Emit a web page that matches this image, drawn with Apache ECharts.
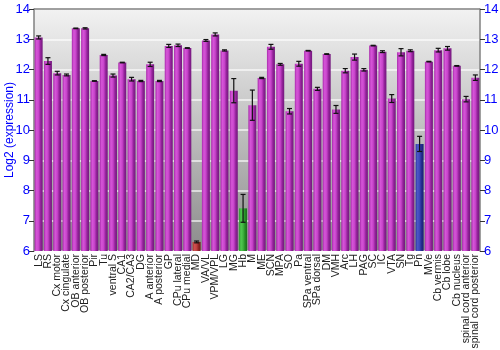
<!DOCTYPE html>
<html>
<head>
<meta charset="utf-8">
<script src="https://cdn.jsdelivr.net/npm/echarts@6/dist/echarts.min.js"></script>
<style>
  html, body { margin: 0; padding: 0; background: #fff; }
  #chart { width: 500px; height: 350px; }
</style>
</head>
<body>
<div id="chart"></div>
<script>
// Brain regions along the x axis
const regions = [
  'LS', 'RS', 'Cx motor', 'Cx cingulate', 'OB anterior', 'OB posterior', 'Pir', 'Tu',
  'ventral S', 'CA1', 'CA2/CA3', 'DG', 'A anterior', 'A posterior', 'GP', 'CPu lateral',
  'CPu medial', 'MD', 'VA/VL', 'VPM/VPL', 'LG', 'MG', 'Hb', 'M', 'ME', 'SCN', 'MPA', 'SO',
  'Pa', 'SPa ventral', 'SPa dorsal', 'DM', 'VMH', 'Arc', 'LH', 'PAG', 'SC', 'IC', 'VTA',
  'SN', 'Tg', 'Pn', 'MVe', 'Cb vermis', 'Cb lobe', 'Cb nucleus', 'spinal cord anterior',
  'spinal cord posterior'
];

// Mean log2 expression per region
const expression = [
  13.06, 12.28, 11.88, 11.82, 13.36, 13.36, 11.62, 12.48,
  11.80, 12.23, 11.68, 11.62, 12.17, 11.62, 12.78, 12.80,
  12.71, 6.30, 12.96, 13.16, 12.63, 11.30, 7.41, 10.82, 11.72, 12.75, 12.17, 10.62,
  12.19, 12.62, 11.36, 12.51, 10.68, 11.96, 12.41, 11.99, 12.79, 12.59, 11.04,
  12.57, 12.62, 9.54, 12.26, 12.64, 12.70, 12.12, 11.02,
  11.73
];

// Standard error per region
const stdError = [
  0.05, 0.11, 0.06, 0.03, 0.01, 0.02, 0.01, 0.02,
  0.05, 0.01, 0.06, 0.02, 0.07, 0.02, 0.05, 0.04,
  0.01, 0.03, 0.03, 0.05, 0.02, 0.40, 0.46, 0.50, 0.02, 0.08, 0.03, 0.09,
  0.08, 0.01, 0.05, 0.01, 0.13, 0.07, 0.10, 0.04, 0.01, 0.03, 0.13,
  0.12, 0.03, 0.25, 0.01, 0.06, 0.06, 0.01, 0.09,
  0.09
];

// Regions drawn in their own colour
const highlight = { 'MD': 'red', 'Hb': 'green', 'Pn': 'blue' };

const yTicks = [6, 7, 8, 9, 10, 11, 12, 13, 14];

function hGrad(stops) {
  return new echarts.graphic.LinearGradient(0, 0, 1, 0,
    stops.map((c, i) => ({ offset: i / (stops.length - 1), color: c })));
}
const palettes = {
  purple: hGrad(['#a82aab', '#d656d8', '#c844cb', '#922299', '#72187c']),
  red: hGrad(['#a83030', '#d05050', '#c04040', '#902424', '#701818']),
  green: hGrad(['#2e9a2e', '#50c850', '#40b440', '#268a26', '#1a701a']),
  blue: hGrad(['#2c36a0', '#4c58c8', '#3c46b8', '#222c8c', '#1a2070'])
};

const barData = regions.map((r, i) => ({
  value: expression[i],
  itemStyle: { color: palettes[highlight[r] || 'purple'] }
}));

const errData = regions.map((r, i) => [i, expression[i] - stdError[i], expression[i] + stdError[i]]);

const chart = echarts.init(document.getElementById('chart'), null, { renderer: 'canvas' });

const yAxisBase = {
  type: 'value', min: 6, max: 14, interval: 1,
  axisLine: { show: true, lineStyle: { color: '#808080', width: 1.5 } },
  axisTick: { show: true, length: 5, lineStyle: { color: '#333' } },
  axisLabel: { color: '#0000ff', fontSize: 13, fontFamily: 'Liberation Sans, Arial, sans-serif', margin: 4,
    formatter: v => yTicks.includes(v) ? String(v) : '' },
  splitLine: { show: true, lineStyle: { color: '#ffffff', width: 1.5, opacity: 0.8 } }
};

chart.setOption({
  animation: false,
  backgroundColor: '#ffffff',
  grid: {
    left: 34, right: 20, top: 9, bottom: 99,
    containLabel: false,
    outerBoundsMode: 'none',
    show: true,
    borderWidth: 0,
    backgroundColor: new echarts.graphic.LinearGradient(0, 0, 0, 1, [
      { offset: 0, color: '#f2f2f2' },
      { offset: 1, color: '#8c8c8c' }
    ])
  },
  xAxis: {
    type: 'category',
    data: regions,
    axisLine: { show: false },
    axisTick: { show: false },
    axisLabel: {
      rotate: 90, interval: 0, color: '#222', fontSize: 10.5,
      fontFamily: 'Liberation Sans, Arial, sans-serif', margin: 3
    }
  },
  yAxis: [
    Object.assign({}, yAxisBase, {
      position: 'left',
      name: 'Log2 (expression)', nameLocation: 'middle', nameGap: 18,
      nameMoveOverlap: false,
      nameTextStyle: { color: '#0000ff', fontSize: 12, fontFamily: 'Liberation Sans, Arial, sans-serif' }
    }),
    Object.assign({}, yAxisBase, { position: 'right', splitLine: { show: false } })
  ],
  graphic: [{
    type: 'line', shape: { x1: 34, y1: 9, x2: 480, y2: 9 },
    style: { stroke: '#808080', lineWidth: 1.5 }, z: 10
  }],
  series: [
    {
      type: 'bar',
      data: barData,
      barCategoryGap: '14%',
      z: 2
    },
    {
      type: 'custom',
      data: errData,
      z: 5,
      renderItem: function (params, api) {
        const x = api.value(0);
        const lo = api.coord([x, api.value(1)]);
        const hi = api.coord([x, api.value(2)]);
        const cap = 2.5;
        const style = { stroke: '#111', lineWidth: 1.2 };
        return {
          type: 'group',
          children: [
            { type: 'line', shape: { x1: lo[0], y1: lo[1], x2: hi[0], y2: hi[1] }, style },
            { type: 'line', shape: { x1: lo[0] - cap, y1: lo[1], x2: lo[0] + cap, y2: lo[1] }, style },
            { type: 'line', shape: { x1: hi[0] - cap, y1: hi[1], x2: hi[0] + cap, y2: hi[1] }, style }
          ]
        };
      }
    }
  ]
});
</script>
</body>
</html>
